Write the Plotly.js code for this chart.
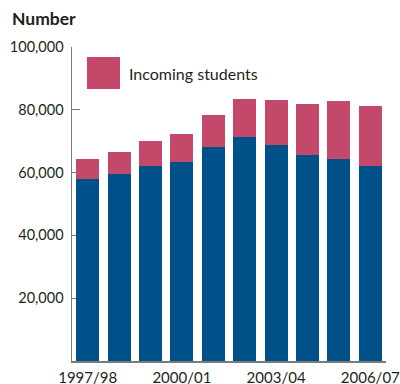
<!DOCTYPE html>
<html>
<head>
<meta charset="utf-8">
<script src="https://cdn.plot.ly/plotly-3.0.1.min.js"></script>
<style>html,body{margin:0;padding:0;background:#fff;}#chart{width:400px;height:384px;}</style>
</head>
<body>
<div id="chart"></div>
<script>
const years = ["1997/98","1998/99","1999/00","2000/01","2001/02","2002/03","2003/04","2004/05","2005/06","2006/07"];
const existingStudents = [57900, 59500, 62100, 63500, 68100, 71300, 68800, 65600, 64300, 62100];
const incomingStudents = [6400, 7000, 7900, 8800, 10200, 12100, 14300, 16200, 18500, 19100];
const xTickLabels = ["1997/98","2000/01","2003/04","2006/07"];
const yTickVals = [20000, 40000, 60000, 80000, 100000];
const legendLabel = "Incoming students";

const BLUE = "#00508a", PINK = "#c4486a", AXIS = "#7a7a7a", TEXT = "#231f20";
const FONT = "Lato, 'Open Sans', sans-serif";

const traces = [
  {type:"bar", x: years, y: existingStudents, marker:{color: BLUE, line:{width:0}}, showlegend:false, hoverinfo:"skip"},
  {type:"bar", x: years, y: incomingStudents, name: legendLabel, marker:{color: PINK, line:{width:0}}, showlegend:false, hoverinfo:"skip"}
];

const layout = {
  width: 400, height: 384,
  margin: {l: 72, r: 14, t: 47, b: 23, pad: 0},
  paper_bgcolor: "#fff", plot_bgcolor: "#fff",
  barmode: "stack", bargap: 0.27,
  font: {family: FONT, size: 14.5, color: TEXT},
  title: {text: "<b>Number</b>", x: 12/400, xanchor: "left", xref: "container", y: 1 - 19/384, yanchor: "middle", yref: "container", font: {family: FONT, size: 17.5, color: TEXT}},
  xaxis: {
    type: "category", range: [-0.5, 9.5],
    tickmode: "array", tickvals: xTickLabels, ticktext: xTickLabels,
    showline: true, linecolor: AXIS, linewidth: 1.5, ticks: "", showgrid: false, zeroline: false,
    tickfont: {family: FONT, size: 15, color: TEXT}, ticklabelstandoff: 2
  },
  yaxis: {
    range: [0, 100000], tickmode: "array", tickvals: yTickVals,
    ticktext: yTickVals.map(v => v.toLocaleString("en-US")),
    showline: true, linecolor: AXIS, linewidth: 1.5, ticks: "inside", ticklen: 8, tickcolor: AXIS, tickwidth: 1.2,
    showgrid: false, zeroline: false, layer: "below traces",
    tickfont: {family: FONT, size: 14.5, color: TEXT}, ticklabelstandoff: 4
  },
  shapes: [
    {type: "rect", xref: "paper", yref: "paper", x0: (87 - 72)/314, x1: (120 - 72)/314, y0: (361 - 89)/314, y1: (361 - 57)/314, fillcolor: PINK, line: {width: 0}}
  ],
  annotations: [
    {xref: "paper", yref: "paper", x: (127 - 72)/314, y: (361 - 73)/314, xanchor: "left", yanchor: "middle", text: legendLabel, showarrow: false, font: {family: FONT, size: 16, color: TEXT}}
  ]
};

Plotly.newPlot("chart", traces, layout, {staticPlot: true, displayModeBar: false});
</script>
</body>
</html>
